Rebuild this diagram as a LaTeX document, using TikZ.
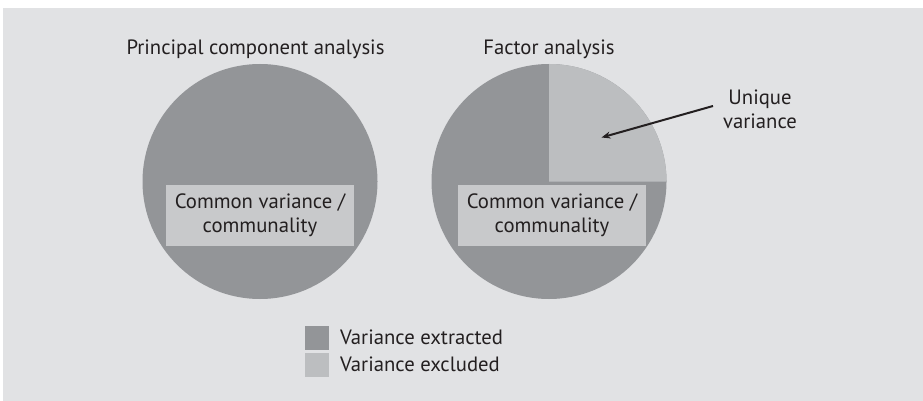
\documentclass[tikz,border=0pt]{standalone}
\usepackage{fontspec}
\setmainfont{PT Sans}
\usetikzlibrary{arrows.meta}
\definecolor{bgc}{HTML}{E1E2E4}
\definecolor{dark}{HTML}{939598}
\definecolor{light}{HTML}{BCBEC0}
\definecolor{boxc}{HTML}{C8C9CB}
\definecolor{txt}{HTML}{231F20}
\begin{document}
\begin{tikzpicture}[x=1pt,y=-1pt,
  lbl/.style={font=\fontsize{20.7}{24}\selectfont, text=txt, inner sep=0pt, align=center},
  cbox/.style={fill=boxc, minimum width=188pt, minimum height=61pt, inner sep=0pt, align=center, text=txt, font=\fontsize{20.7}{24}\selectfont},
  key/.style={minimum width=24pt, minimum height=24pt, inner sep=0pt}]
\useasboundingbox (0,0) rectangle (923,401);
\fill[white] (0,0) rectangle (923,401);
\fill[bgc] (3,8) rectangle (923,401);
% left circle
\fill[dark] (260,181.5) circle (117.5);
% right circle
\fill[dark] (549,181.5) circle (117.5);
\fill[light] (549,181.5) -- (549,64) arc[start angle=-90, end angle=0, radius=117.5] -- cycle;
\node[lbl] (t1) at (255.5,49) {Principal component analysis};
\node[lbl] (t2) at (549,49) {Factor analysis};
\node[cbox] (b1) at (260,215.5) {Common variance /\\communality};
\node[cbox] (b2) at (552,215.5) {Common variance /\\communality};
\node[lbl] (u) at (760,109) {Unique\\variance};
\coordinate (as) at (713,106);
\coordinate (ae) at (601.5,137.5);
\draw[txt, line width=2pt, -{Stealth[length=9pt,width=7pt]}] (as) -- (ae);
\node[key, fill=dark] (k1) at (317,338) {};
\node[key, fill=light] (k2) at (317,365) {};
\node[lbl, anchor=west] (l1) at (340,337) {Variance extracted};
\node[lbl, anchor=west] (l2) at (340,364) {Variance excluded};
\end{tikzpicture}
\end{document}
